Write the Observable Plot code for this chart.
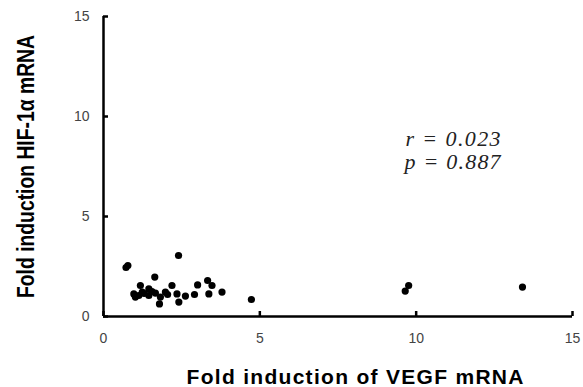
<!DOCTYPE html>
<html>
<head>
<meta charset="utf-8">
<script src="https://cdn.jsdelivr.net/npm/d3@7"></script>
<script src="https://cdn.jsdelivr.net/npm/@observablehq/plot@0.6"></script>
<style>
  body { margin: 0; background: #fff; }
  #chart { width: 583px; height: 387px; }
</style>
</head>
<body>
<div id="chart"></div>
<script>
const vegf = [0.72, 0.78, 2.40, 1.64, 1.18, 0.97, 1.02, 1.13, 1.24, 1.45, 1.45, 1.66, 1.82, 1.98, 2.19, 1.79, 2.35, 2.41, 2.62, 2.91, 3.01, 3.33, 3.47, 3.37, 3.79, 4.73, 9.65, 9.76, 13.4, 1.30, 1.55, 2.05];
const hif  = [2.45, 2.55, 3.05, 1.97, 1.55, 1.13, 0.97, 1.05, 1.22, 1.38, 1.05, 1.17, 0.97, 1.22, 1.55, 0.63, 1.13, 0.72, 1.02, 1.10, 1.58, 1.80, 1.55, 1.13, 1.22, 0.85, 1.27, 1.55, 1.47, 1.15, 1.25, 1.10];
const tickValues = [0, 5, 10, 15];
const xTitle = "Fold induction of VEGF mRNA";
const yTitle = "Fold induction HIF-1α mRNA";
const statsLines = ["r = 0.023", "p = 0.887"];
const statsX = [9.66, 9.63];
const statsY = [8.55, 7.4];

const points = vegf.map((v, i) => ({x: v, y: hif[i]}));
const stats = statsLines.map((t, i) => ({t, x: statsX[i], y: statsY[i]}));

const chart = Plot.plot({
  width: 583,
  height: 387,
  marginLeft: 103,
  marginRight: 11,
  marginTop: 16,
  marginBottom: 71,
  style: {background: "#fff", fontFamily: "Liberation Sans, Arial, sans-serif"},
  x: {domain: [0, 15]},
  y: {domain: [0, 15]},
  marks: [
    Plot.axisX({ticks: tickValues, tickSize: 0, tickPadding: 17, fontSize: 14, fill: "#444", label: null}),
    Plot.axisX({ticks: tickValues, tickSize: -5, strokeWidth: 2.5, tickFormat: () => "", label: null}),
    Plot.axisY({ticks: tickValues, tickSize: 0, tickPadding: 14, fontSize: 14, fill: "#444", label: null}),
    Plot.axisY({ticks: tickValues, tickSize: -5, strokeWidth: 2.5, tickFormat: () => "", label: null}),
    Plot.ruleX([0], {strokeWidth: 2.5, stroke: "#000"}),
    Plot.ruleY([0], {strokeWidth: 2.5, stroke: "#000"}),
    Plot.dot(points, {x: "x", y: "y", r: 3.6, fill: "#000", stroke: "none"}),
    Plot.text(stats, {x: "x", y: "y", text: "t", textAnchor: "start", lineAnchor: "bottom", fontSize: 22, fontStyle: "italic", fontFamily: "Liberation Serif, Times New Roman, serif", fill: "#222"}),
    Plot.text([xTitle], {frameAnchor: "bottom", dx: 17, dy: 67, text: d => d, textAnchor: "middle", fontSize: 21, fontWeight: "bold", lineAnchor: "bottom", fill: "#000"}),
    Plot.text([yTitle], {frameAnchor: "left", dx: -77, rotate: -90, text: d => d, textAnchor: "middle", fontSize: 23, fontWeight: "bold", fill: "#000"})
  ]
});
// fit text widths to those of the reference
const fitLengths = new Map([[xTitle, 337], [yTitle, 263], [statsLines[0], 95], [statsLines[1], 96]]);
chart.querySelectorAll("text").forEach(t => {
  const L = fitLengths.get(t.textContent);
  if (L) {
    t.setAttribute("textLength", L);
    t.setAttribute("lengthAdjust", t.textContent === yTitle ? "spacingAndGlyphs" : "spacing");
  }
});
document.getElementById("chart").appendChild(chart);
</script>
</body>
</html>
